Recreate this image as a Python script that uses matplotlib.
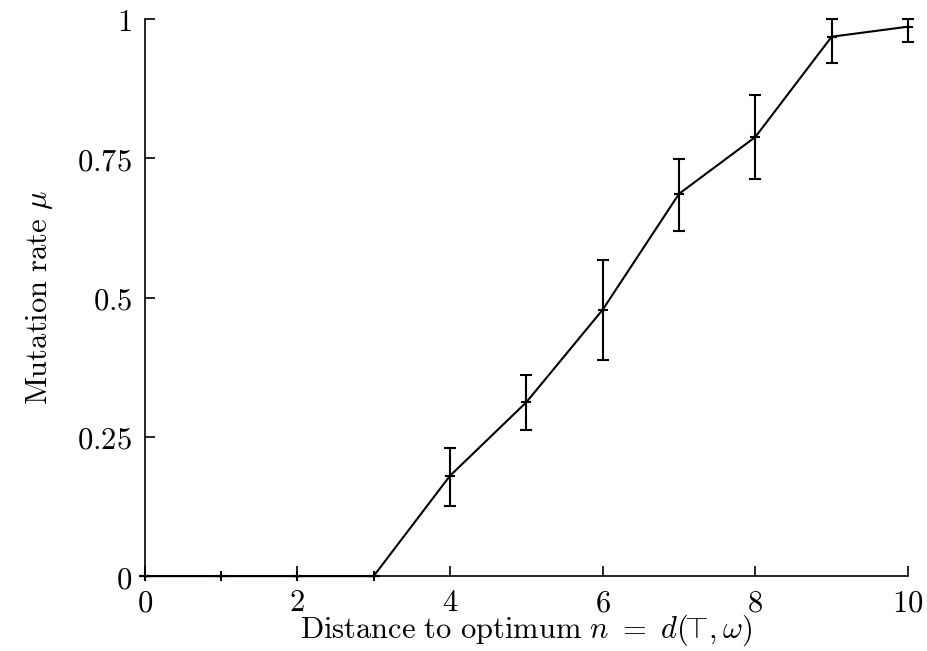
import matplotlib
matplotlib.use("Agg")
import matplotlib.pyplot as plt

plt.rcParams['mathtext.fontset'] = 'cm'
plt.rcParams['font.family'] = 'serif'
plt.rcParams['font.serif'] = ['DejaVu Serif']

# distance to optimum and mean mutation rate, with error bar ends
distance = [0, 1, 2, 3, 4, 5, 6, 7, 8, 9, 10]
rate = [0.0, 0.0, 0.0, 0.0, 0.180, 0.312, 0.478, 0.686, 0.788, 0.968, 0.986]
rate_low = [0.0, 0.0, 0.0, 0.0, 0.126, 0.262, 0.388, 0.619, 0.713, 0.921, 0.959]
rate_high = [0.0, 0.0, 0.0, 0.0, 0.230, 0.361, 0.567, 0.749, 0.864, 1.0, 1.0]

x_ticks = [0, 2, 4, 6, 8, 10]
y_ticks = [0, 0.25, 0.5, 0.75, 1]
y_tick_labels = ['0', '0.25', '0.5', '0.75', '1']

err = [[r - lo for r, lo in zip(rate, rate_low)],
       [hi - r for r, hi in zip(rate, rate_high)]]

fig = plt.figure(figsize=(9.27, 6.51), dpi=100)
ax = fig.add_axes([0.156, 0.115, 0.8235, 0.856])

ax.errorbar(distance, rate, yerr=err, color='black', linewidth=1.5,
            elinewidth=1.5, capsize=4, capthick=1.5, marker='+',
            markersize=7, markeredgewidth=1.5, clip_on=False, zorder=3)

ax.set_xlim(0, 10)
ax.set_ylim(0, 1)
ax.set_xticks(x_ticks)
ax.set_xticklabels(['$%d$' % t for t in x_ticks])
ax.set_yticks(y_ticks)
ax.set_yticklabels(['$%s$' % t for t in y_tick_labels])

for side in ['top', 'right']:
    ax.spines[side].set_visible(False)
for side in ['left', 'bottom']:
    ax.spines[side].set_linewidth(1.2)

ax.tick_params(direction='in', length=7, width=1.2, labelsize=22)
ax.tick_params(axis='x', pad=8)
ax.tick_params(axis='y', pad=9)

ax.set_xlabel(r'$\mathrm{Distance\ to\ optimum}\ n\ =\ d(\!\!{\top}\!,\omega)$',
              fontsize=22, labelpad=-4)
ax.set_ylabel(r'$\mathrm{Mutation\ rate}\ \mu$', fontsize=22, labelpad=16)

fig.savefig('out.png', dpi=100)
